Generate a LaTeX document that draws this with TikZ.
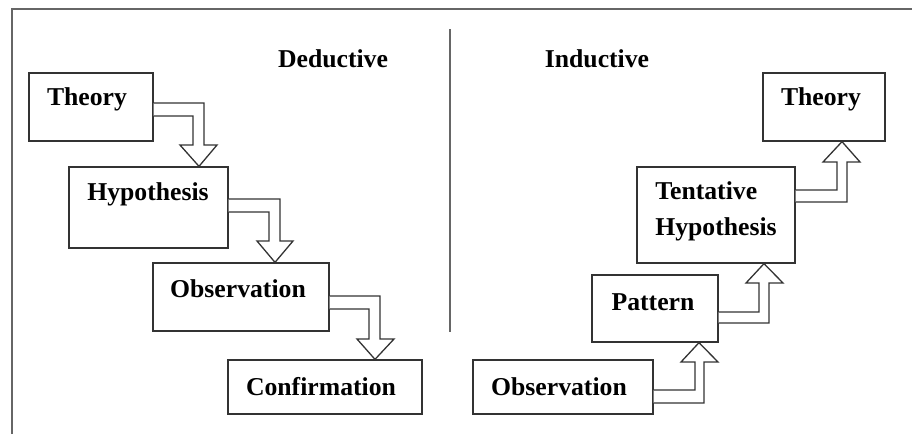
\documentclass[tikz,border=0pt]{standalone}
\usepackage{fontspec}
\setmainfont{Liberation Serif}
\begin{document}
\begin{tikzpicture}[x=1pt,y=-1pt,
  box/.style={draw=black!80,line width=1.3pt,fill=white,rectangle,inner sep=0pt},
  lbl/.style={font=\fontsize{25.7}{36}\selectfont\bfseries,inner sep=0pt,anchor=center},
  blk/.style={draw=black!80,line width=1.3pt,fill=white,line join=miter},
  frame/.style={draw=black!60,line width=1.4pt}]
\useasboundingbox (0,0) rectangle (912,434);
% frame
\coordinate (fTop) at (12,9);
\coordinate (fTR) at (912,9);
\coordinate (fBot) at (12,434);
\draw[frame] (fBot) -- (fTop) -- (fTR);
\coordinate (dv1) at (450,29);
\coordinate (dv2) at (450,332);
\draw[frame,line width=1.2pt] (dv1) -- (dv2);
% headers
\node[lbl] (hded) at (333,59) {Deductive};
\node[lbl] (hind) at (597,59) {Inductive};
% deductive boxes
\node[box,minimum width=124,minimum height=68] (dT) at (91,107) {};
\node[lbl] (dTl) at (87,99) {Theory};
\node[box,minimum width=159,minimum height=81] (dH) at (148.5,207.5) {};
\node[lbl] (dHl) at (148,194) {Hypothesis};
\node[box,minimum width=176,minimum height=68] (dO) at (241,297) {};
\node[lbl] (dOl) at (238,289) {Observation};
\node[box,minimum width=194,minimum height=54] (dC) at (325,387) {};
\node[lbl] (dCl) at (321,387) {Confirmation};
% deductive block arrows
\draw[blk] (dT.east |- 0,103) -- (204,103) -- (204,145) -- (217,145) -- (dH.north -| 199,0) -- (180,145) -- (193,145) -- (193,116) -- (dT.east |- 0,116);
\draw[blk] (dH.east |- 0,199) -- (280,199) -- (280,241) -- (293,241) -- (dO.north -| 275,0) -- (257,241) -- (269,241) -- (269,212) -- (dH.east |- 0,212);
\draw[blk] (dO.east |- 0,296) -- (380,296) -- (380,339) -- (394,339) -- (dC.north -| 375,0) -- (357,339) -- (369,339) -- (369,309) -- (dO.east |- 0,309);
% inductive boxes
\node[box,minimum width=180,minimum height=54] (iO) at (563,387) {};
\node[lbl] (iOl) at (559,387) {Observation};
\node[box,minimum width=126,minimum height=67] (iP) at (655,308.5) {};
\node[lbl] (iPl) at (653,302) {Pattern};
\node[box,minimum width=158,minimum height=96] (iH) at (716,215) {};
\node[lbl,align=left] (iHl) at (716,211) {Tentative\\Hypothesis};
\node[box,minimum width=122,minimum height=68] (iT) at (824,107) {};
\node[lbl] (iTl) at (821,99) {Theory};
% inductive block arrows
\draw[blk] (iO.east |- 0,390) -- (695,390) -- (695,362) -- (681,362) -- (iP.south -| 699,0) -- (718,362) -- (704,362) -- (704,403) -- (iO.east |- 0,403);
\draw[blk] (iP.east |- 0,312) -- (759,312) -- (759,283) -- (746,283) -- (iH.south -| 764,0) -- (783,283) -- (769,283) -- (769,323) -- (iP.east |- 0,323);
\draw[blk] (iH.east |- 0,190) -- (837,190) -- (837,162) -- (823,162) -- (iT.south -| 842,0) -- (860,162) -- (847,162) -- (847,202) -- (iH.east |- 0,202);
\end{tikzpicture}
\end{document}
